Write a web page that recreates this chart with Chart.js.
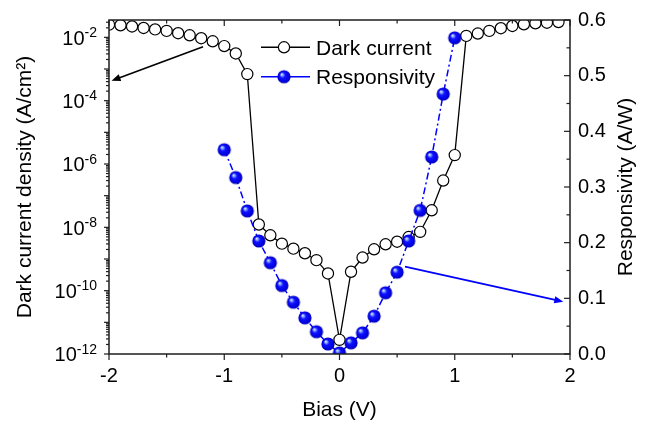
<!DOCTYPE html>
<html>
<head>
<meta charset="utf-8">
<script src="https://cdn.jsdelivr.net/npm/chart.js@4"></script>
<style>
  html, body { margin: 0; padding: 0; background: #fff; }
  #c { display: block; }
</style>
</head>
<body>
<canvas id="c" width="652" height="427"></canvas>
<script>
// Bias sweep for the dark current curve (V)
const bias = [-2.0, -1.9, -1.8, -1.7, -1.6, -1.5, -1.4, -1.3, -1.2, -1.1, -1.0, -0.9, -0.8, -0.7, -0.6, -0.5, -0.4, -0.3, -0.2, -0.1,
              0.0, 0.1, 0.2, 0.3, 0.4, 0.5, 0.6, 0.7, 0.8, 0.9, 1.0, 1.1, 1.2, 1.3, 1.4, 1.5, 1.6, 1.7, 1.8, 1.9];
// Dark current density (A/cm^2)
const darkCurrent = [2.52e-2, 2.41e-2, 2.21e-2, 1.98e-2, 1.78e-2, 1.60e-2, 1.35e-2, 1.16e-2, 9.4e-3, 7.5e-3,
                     5.3e-3, 3.1e-3, 6.9e-4, 1.23e-8, 5.6e-9, 3.05e-9, 2.12e-9, 1.52e-9, 9.2e-10, 3.5e-10,
                     2.8e-12, 3.96e-10, 1.11e-9, 2.03e-9, 2.92e-9, 3.52e-9, 4.93e-9, 7.2e-9, 3.45e-8, 3.0e-7,
                     1.91e-6, 1.11e-2, 1.32e-2, 1.60e-2, 1.94e-2, 2.29e-2, 2.59e-2, 2.78e-2, 2.90e-2, 3.05e-2];
// Bias points for the responsivity curve (V)
const respBias = [-1.0, -0.9, -0.8, -0.7, -0.6, -0.5, -0.4, -0.3, -0.2, -0.1, 0.0,
                  0.1, 0.2, 0.3, 0.4, 0.5, 0.6, 0.7, 0.8, 0.9, 1.0];
// Responsivity (A/W)
const responsivity = [0.367, 0.317, 0.257, 0.203, 0.164, 0.123, 0.093, 0.065, 0.040, 0.018, 0.002,
                      0.020, 0.038, 0.068, 0.110, 0.147, 0.203, 0.258, 0.354, 0.467, 0.568];

// Axis ticks
const xTickValues = [-2, -1, 0, 1, 2];
const leftTickExponents = [-12, -10, -8, -6, -4, -2];
const rightTickValues = [0.0, 0.1, 0.2, 0.3, 0.4, 0.5, 0.6];

// Series names
const seriesNames = ['Dark current', 'Responsivity'];

const FONT = '"Liberation Sans", Arial, sans-serif';
const BLUE = '#0000ff';
const AXIS = '#1e1e1e';

// Shaded blue sphere used as the responsivity marker
function makeBall(r) {
  const s = Math.ceil(r * 2 + 2);
  const c = document.createElement('canvas');
  c.width = s; c.height = s;
  const g = c.getContext('2d');
  const cx = s / 2, cy = s / 2;
  const grad = g.createRadialGradient(cx - r * 0.38, cy - r * 0.4, 0, cx, cy, r);
  grad.addColorStop(0, '#f0f8ff');
  grad.addColorStop(0.18, '#8aaeff');
  grad.addColorStop(0.42, '#1212ff');
  grad.addColorStop(0.85, '#0000e0');
  grad.addColorStop(1, '#0000a0');
  g.fillStyle = grad;
  g.beginPath();
  g.arc(cx, cy, r, 0, Math.PI * 2);
  g.fill();
  return c;
}
const ball = makeBall(6.6);

const darkPoints = bias.map((b, i) => ({ x: b, y: darkCurrent[i] }));
const respPoints = respBias.map((b, i) => ({ x: b, y: responsivity[i] }));

// Arrows tying each curve to its own axis (data coordinates)
const arrows = [
  { from: [-1.184, Math.pow(10, -2.30)], to: [-1.978, Math.pow(10, -3.37)], axis: 'y', color: '#000' },
  { from: [0.568, 0.157], to: [1.942, 0.094], axis: 'y2', color: BLUE }
];

function drawArrow(ctx, x1, y1, x2, y2, color) {
  const ang = Math.atan2(y2 - y1, x2 - x1);
  const hl = 9, hw = 3.6;
  ctx.save();
  ctx.strokeStyle = color;
  ctx.fillStyle = color;
  ctx.lineWidth = 1.6;
  ctx.beginPath();
  ctx.moveTo(x1, y1);
  ctx.lineTo(x2 - Math.cos(ang) * hl * 0.8, y2 - Math.sin(ang) * hl * 0.8);
  ctx.stroke();
  ctx.beginPath();
  ctx.moveTo(x2, y2);
  ctx.lineTo(x2 - Math.cos(ang) * hl - Math.sin(ang) * hw, y2 - Math.sin(ang) * hl + Math.cos(ang) * hw);
  ctx.lineTo(x2 - Math.cos(ang) * hl + Math.sin(ang) * hw, y2 - Math.sin(ang) * hl - Math.cos(ang) * hw);
  ctx.closePath();
  ctx.fill();
  ctx.restore();
}

const framePlugin = {
  id: 'frame',
  afterDatasetsDraw(chart) {
    const ctx = chart.ctx;
    const { left, right, top, bottom } = chart.chartArea;
    const xs = chart.scales.x, yl = chart.scales.y, yr = chart.scales.y2;

    // annotation arrows
    arrows.forEach(a => {
      const ys = chart.scales[a.axis];
      drawArrow(ctx, xs.getPixelForValue(a.from[0]), ys.getPixelForValue(a.from[1]),
                xs.getPixelForValue(a.to[0]), ys.getPixelForValue(a.to[1]), a.color);
    });

    ctx.save();
    ctx.strokeStyle = AXIS;
    ctx.lineWidth = 1.5;
    ctx.strokeRect(left, top, right - left, bottom - top);

    ctx.lineWidth = 1.2;
    const tick = (x1, y1, x2, y2) => { ctx.beginPath(); ctx.moveTo(x1, y1); ctx.lineTo(x2, y2); ctx.stroke(); };

    // bottom (outward) and top (inward) ticks
    for (let i = 0; i < xTickValues.length; i++) {
      const v = xTickValues[i];
      const px = xs.getPixelForValue(v);
      tick(px, bottom, px, bottom + 6);
      tick(px, top, px, top + 6);
      if (i < xTickValues.length - 1) {
        const pm = xs.getPixelForValue((v + xTickValues[i + 1]) / 2);
        tick(pm, bottom, pm, bottom + 3.5);
        tick(pm, top, pm, top + 3.5);
      }
    }

    // left log ticks (outward)
    for (let e = -12; e <= -2; e++) {
      const py = yl.getPixelForValue(Math.pow(10, e));
      tick(left, py, left - 5, py);
      for (let k = 2; k <= 9; k++) {
        const v = k * Math.pow(10, e);
        if (v > yl.max) break;
        const pm = yl.getPixelForValue(v);
        tick(left, pm, left - 3, pm);
      }
    }

    // right linear ticks (inward)
    for (let i = 0; i < rightTickValues.length; i++) {
      const v = rightTickValues[i];
      const py = yr.getPixelForValue(v);
      tick(right, py, right - 6, py);
      if (i < rightTickValues.length - 1) {
        const pm = yr.getPixelForValue((v + rightTickValues[i + 1]) / 2);
        tick(right, pm, right - 3.5, pm);
      }
    }

    // left tick labels: 10 with a raised exponent
    ctx.fillStyle = '#000';
    ctx.textBaseline = 'alphabetic';
    leftTickExponents.forEach(e => {
      const py = yl.getPixelForValue(Math.pow(10, e));
      const exp = String(e);
      ctx.font = '14px ' + FONT;
      const ew = ctx.measureText(exp).width;
      ctx.font = '20px ' + FONT;
      const bw = ctx.measureText('10').width;
      const xr = left - 12;
      ctx.textAlign = 'left';
      ctx.fillText('10', xr - ew - bw, py + 7.2);
      ctx.font = '14px ' + FONT;
      ctx.fillText(exp, xr - ew, py - 0.5);
    });

    // right axis title, reading upward
    ctx.save();
    ctx.translate(632, (top + bottom) / 2);
    ctx.rotate(-Math.PI / 2);
    ctx.textAlign = 'center';
    ctx.textBaseline = 'alphabetic';
    ctx.font = '21px ' + FONT;
    ctx.fillText('Responsivity (A/W)', 0, 0);
    ctx.restore();

    // legend: line - marker - line samples
    const legendRows = [
      { y: 47.3, base: 54.5, color: '#000', marker: 'circle' },
      { y: 76.7, base: 84, color: BLUE, marker: 'ball' }
    ];
    legendRows.forEach((r, i) => {
      ctx.strokeStyle = r.color;
      ctx.lineWidth = 1.5;
      tick(261, r.y, 310, r.y);
      if (r.marker === 'circle') {
        ctx.fillStyle = '#fff';
        ctx.strokeStyle = '#000';
        ctx.lineWidth = 1.2;
        ctx.beginPath(); ctx.arc(284, r.y, 5.6, 0, Math.PI * 2); ctx.fill(); ctx.stroke();
      } else {
        ctx.drawImage(ball, 284 - ball.width / 2, r.y - ball.height / 2);
      }
      ctx.fillStyle = '#000';
      ctx.font = '21px ' + FONT;
      ctx.textAlign = 'left';
      ctx.fillText(seriesNames[i], 316, r.base);
    });
    ctx.restore();
  }
};

new Chart(document.getElementById('c'), {
  type: 'line',
  data: {
    datasets: [
      {
        label: seriesNames[1],
        data: respPoints,
        yAxisID: 'y2',
        order: 0,
        borderColor: BLUE,
        borderWidth: 1.5,
        borderDash: [7, 3, 2, 3],
        pointStyle: ball,
        pointRadius: 6.6,
        tension: 0
      },
      {
        label: seriesNames[0],
        data: darkPoints,
        yAxisID: 'y',
        order: 1,
        borderColor: '#000',
        borderWidth: 1.3,
        pointStyle: 'circle',
        pointRadius: 5.6,
        pointBorderWidth: 1.2,
        pointBorderColor: '#000',
        pointBackgroundColor: '#fff',
        tension: 0
      }
    ]
  },
  options: {
    responsive: false,
    devicePixelRatio: 1,
    animation: false,
    events: [],
    layout: { padding: { left: 0, right: 0, top: 17, bottom: 0 } },
    plugins: { legend: { display: false }, tooltip: { enabled: false } },
    scales: {
      x: {
        type: 'linear',
        position: 'bottom',
        min: -2, max: 2,
        afterBuildTicks: s => { s.ticks = xTickValues.map(v => ({ value: v })); },
        afterFit: s => { s.height = 73; },
        grid: { display: false, drawTicks: false },
        border: { display: false },
        ticks: { font: { family: FONT, size: 20 }, color: '#000', padding: 10, maxRotation: 0, autoSkip: false,
                 callback: v => String(v) },
        title: { display: true, text: 'Bias (V)', color: '#000', font: { family: FONT, size: 21 },
                 padding: { top: 0, bottom: 4 } }
      },
      y: {
        type: 'logarithmic',
        position: 'left',
        min: 1e-12, max: 0.0353,
        afterBuildTicks: s => { s.ticks = leftTickExponents.map(e => ({ value: Math.pow(10, e) })); },
        afterFit: s => { s.width = 109; },
        grid: { display: false, drawTicks: false },
        border: { display: false },
        ticks: { display: false },
        title: { display: true, text: 'Dark current density (A/cm²)', color: '#000',
                 font: { family: FONT, size: 21 }, padding: { top: 13, bottom: 0 } }
      },
      y2: {
        type: 'linear',
        position: 'right',
        min: 0, max: 0.6,
        afterBuildTicks: s => { s.ticks = rightTickValues.map(v => ({ value: v })); },
        afterFit: s => { s.width = 82; },
        grid: { display: false, drawTicks: false },
        border: { display: false },
        ticks: { font: { family: FONT, size: 20 }, color: '#000', padding: 8, callback: v => v.toFixed(1) }
      }
    }
  },
  plugins: [framePlugin]
});
</script>
</body>
</html>
